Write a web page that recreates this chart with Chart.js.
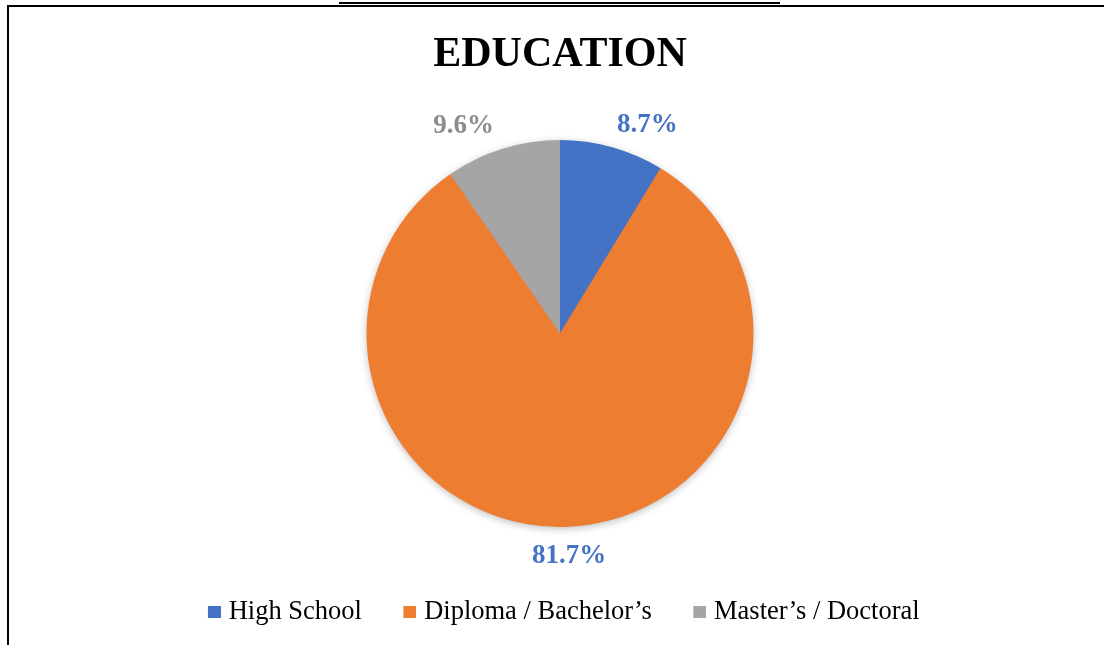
<!DOCTYPE html>
<html>
<head>
<meta charset="utf-8">
<script src="https://cdn.jsdelivr.net/npm/chart.js@4.4.1/dist/chart.umd.min.js"></script>
<style>
  html, body { margin: 0; padding: 0; background: #ffffff; }
  #wrap { position: relative; width: 1104px; height: 645px; overflow: hidden; background: #ffffff; }
  #wrap canvas { position: absolute; left: 0; top: 0; }
  .rule { position: absolute; background: #000000; }
</style>
</head>
<body>
<div id="wrap">
  <canvas id="chart" width="1104" height="645"></canvas>
  <div class="rule" style="left:339px; top:2px; width:441px; height:1.5px;"></div>
  <div class="rule" style="left:7px; top:5px; width:1097px; height:2px;"></div>
  <div class="rule" style="left:7px; top:5px; width:2px; height:640px;"></div>
</div>
<script>
// Education level of respondents (percent)
const categories = ['High School', 'Diploma / Bachelor\u2019s', 'Master\u2019s / Doctoral'];
const shares = [8.7, 81.7, 9.6];
const sliceColors = ['#4472C4', '#ED7D31', '#A5A5A5'];
const labelColors = ['#4472C4', '#4472C4', '#8C8C8C'];
const chartTitle = 'EDUCATION';

const serif = "'Liberation Serif', 'Times New Roman', Times, serif";

// Legend swatch: a 13x12 square sitting in the right half of the image,
// so it lands just before the label text
function swatch(color) {
  const c = document.createElement('canvas');
  c.width = 26; c.height = 16;
  const g = c.getContext('2d');
  g.fillStyle = color;
  g.fillRect(13, 2, 13, 12);
  return c;
}
const swatches = sliceColors.map(swatch);

// Soft shadow under the whole pie
const pieShadow = {
  id: 'pieShadow',
  beforeDatasetsDraw(chart) {
    const arc = chart.getDatasetMeta(0).data[0];
    if (!arc) return;
    const ctx = chart.ctx;
    ctx.save();
    ctx.shadowColor = 'rgba(0,0,0,0.30)';
    ctx.shadowBlur = 9;
    ctx.shadowOffsetY = 2;
    ctx.beginPath();
    ctx.arc(arc.x, arc.y, arc.outerRadius - 1, 0, Math.PI * 2);
    ctx.fillStyle = '#ED7D31';
    ctx.fill();
    ctx.restore();
  }
};

// Percentage labels placed outside each slice
const sliceLabels = {
  id: 'sliceLabels',
  afterDatasetsDraw(chart) {
    const ctx = chart.ctx;
    const meta = chart.getDatasetMeta(0);
    const values = chart.data.datasets[0].data;
    ctx.save();
    ctx.font = 'bold 27px ' + serif;
    ctx.textAlign = 'center';
    ctx.textBaseline = 'middle';
    meta.data.forEach((arc, i) => {
      const mid = (arc.startAngle + arc.endAngle) / 2;
      const r = arc.outerRadius;
      const x = arc.x + r * 1.675 * Math.cos(mid);
      const y = arc.y + r * 1.137 * Math.sin(mid) + 3;
      ctx.fillStyle = labelColors[i];
      ctx.fillText(values[i].toFixed(1) + '%', x, y);
    });
    ctx.restore();
  }
};

new Chart(document.getElementById('chart'), {
  type: 'pie',
  data: {
    labels: categories,
    datasets: [{
      data: shares,
      backgroundColor: sliceColors,
      borderWidth: 0,
      radius: 193.5
    }]
  },
  options: {
    responsive: false,
    animation: false,
    devicePixelRatio: 1,
    layout: { padding: { top: 0, left: 16, right: 0, bottom: 9.75 } },
    plugins: {
      title: {
        display: true,
        text: chartTitle,
        color: '#000000',
        font: { family: serif, size: 42, weight: 'bold', lineHeight: 1.2 },
        padding: { top: 30, bottom: 21.85 }
      },
      legend: {
        display: true,
        position: 'bottom',
        labels: {
          color: '#000000',
          font: { family: serif, size: 26.5 },
          usePointStyle: true,
          pointStyleWidth: 15,
          padding: 34,
          generateLabels(chart) {
            const items = Chart.overrides.pie.plugins.legend.labels.generateLabels(chart);
            items.forEach((it, i) => { it.pointStyle = swatches[i]; });
            return items;
          }
        }
      },
      tooltip: { enabled: false }
    }
  },
  plugins: [pieShadow, sliceLabels]
});
</script>
</body>
</html>
